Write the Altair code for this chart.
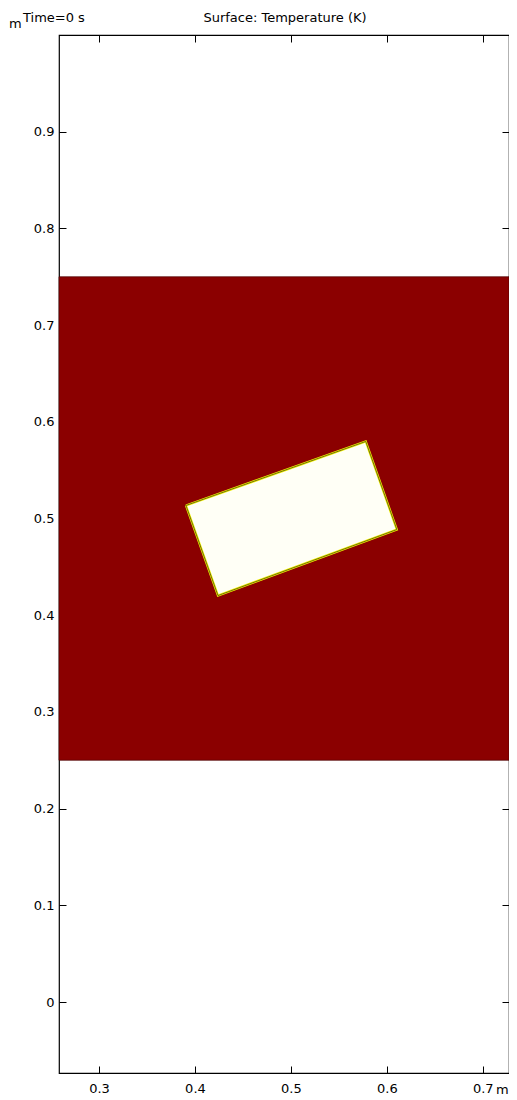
import altair as alt
import pandas as pd

# Domain / data
x_domain = [0.2583, 0.7273]
y_domain = [-0.0734, 1.0]
x_ticks = [0.3, 0.4, 0.5, 0.6, 0.7]
y_ticks = [0.0, 0.1, 0.2, 0.3, 0.4, 0.5, 0.6, 0.7, 0.8, 0.9]

# heated region (dark red rectangle)
region_x = [0.2583]
region_x2 = [0.7273]
region_y = [0.25]
region_y2 = [0.75]

# rotated cold block corners (closed polygon)
block_x = [0.3906, 0.578, 0.6104, 0.424, 0.3906]
block_y = [0.5135, 0.5797, 0.4886, 0.4203, 0.5135]
block_order = [0, 1, 2, 3, 4]

FONT = "DejaVu Sans"
FS = 13

region_df = pd.DataFrame({"x": region_x, "x2": region_x2, "y": region_y, "y2": region_y2})
block_df = pd.DataFrame({"x": block_x, "y": block_y, "o": block_order})

xs = alt.Scale(domain=x_domain, nice=False, zero=False)
ys = alt.Scale(domain=y_domain, nice=False, zero=False)

ax_bottom = alt.Axis(orient="bottom", values=x_ticks, title=None, offset=-7, tickSize=7,
                     labelPadding=9, domain=False, grid=False, format=".1f")
ax_left = alt.Axis(orient="left", values=y_ticks, title=None, offset=-7, tickSize=7,
                   labelPadding=5, domain=False, grid=False, format=".1~f")
ax_top = alt.Axis(orient="top", values=x_ticks, title=None, offset=-7, tickSize=7,
                  labels=False, domain=False, grid=False)
ax_right = alt.Axis(orient="right", values=y_ticks, title=None, offset=-7, tickSize=7,
                    labels=False, domain=False, grid=False)

region = alt.Chart(region_df).mark_rect(color="#8b0000", stroke="#4a0000", strokeWidth=0.7).encode(
    x=alt.X("x:Q", scale=xs, axis=ax_bottom),
    x2="x2:Q",
    y=alt.Y("y:Q", scale=ys, axis=ax_left),
    y2="y2:Q",
)

block_edge = alt.Chart(block_df).mark_line(
    fill="#fffff6", stroke="#f2f200", strokeWidth=2.2, strokeJoin="miter"
).encode(
    x=alt.X("x:Q", scale=xs, axis=ax_top),
    y=alt.Y("y:Q", scale=ys, axis=ax_right),
    order="o:Q",
)

block_outline = alt.Chart(block_df).mark_line(
    stroke="#3a3a10", strokeWidth=0.7
).encode(
    x=alt.X("x:Q", scale=xs, axis=None),
    y=alt.Y("y:Q", scale=ys, axis=None),
    order="o:Q",
)

def label(txt, px, py, align="left", baseline="alphabetic"):
    return alt.Chart(pd.DataFrame({"t": [txt]})).mark_text(
        font=FONT, fontSize=FS, color="#000", align=align, baseline=baseline
    ).encode(text="t:N", x=alt.value(px), y=alt.value(py))

t_time = label("Time=0 s", -36, -13)
t_title = label("Surface: Temperature (K)", 226, -13, align="center")
t_m_top = label("m", -50, -7)
t_m_bot = label("m", 437, 1059)

chart = alt.layer(region, block_edge, block_outline, t_time, t_title, t_m_top, t_m_bot).resolve_axis(
    x="independent", y="independent"
).properties(
    width=450, height=1038,
    autosize=alt.AutoSizeParams(type="none"),
    padding={"left": 51, "top": 27, "right": 0, "bottom": 26},
).configure_view(
    stroke="#000", strokeWidth=1.2
).configure_axis(
    labelFont=FONT, labelFontSize=FS, labelColor="#000", tickColor="#000", tickWidth=1
)

chart.save("out.html", embed_options={"renderer": "svg", "actions": False})
